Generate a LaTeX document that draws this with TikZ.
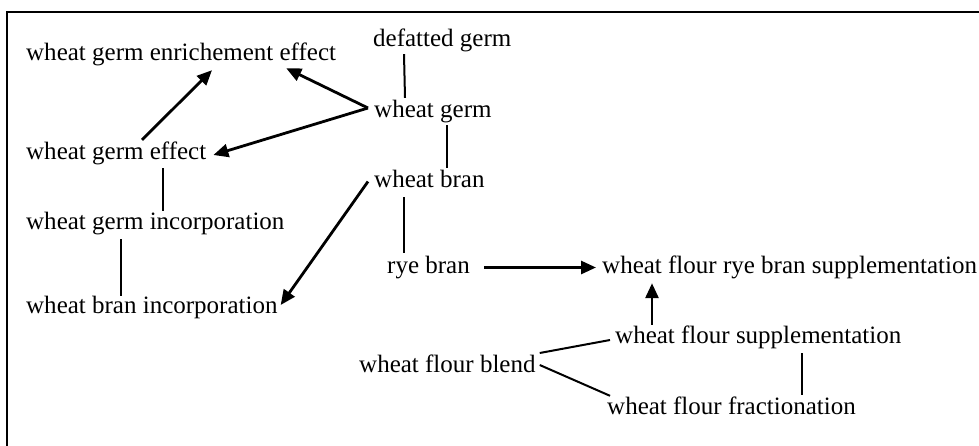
\documentclass[tikz,border=0pt]{standalone}
\usepackage{fontspec}
\setmainfont{Liberation Serif}
\usetikzlibrary{arrows.meta}
\begin{document}
\begin{tikzpicture}[x=1pt,y=-1pt,
  lbl/.style={anchor=base west,inner sep=0pt,text height=17pt,text depth=6pt,
    font=\fontsize{25pt}{30pt}\selectfont},
  plain/.style={line width=2pt},
  arr/.style={line width=2.8pt,-{Triangle[length=15pt,width=13pt]}},
  frame/.style={line width=2.6pt}]
\useasboundingbox (0,0) rectangle (979,445);
% frame
\coordinate (fb) at (7,446);
\coordinate (fc) at (7,12);
\coordinate (fr) at (980,12);
\draw[frame] (fb) -- (fc) -- (fr);
% nodes
\node[lbl] (ee)   at (26,60)   {wheat germ enrichement effect};
\node[lbl] (eff)  at (26,159)  {wheat germ effect};
\node[lbl] (inc)  at (26,229)  {wheat germ incorporation};
\node[lbl] (binc) at (26,313)  {wheat bran incorporation};
\node[lbl] (dg)   at (373,46)  {defatted germ};
\node[lbl] (wg)   at (374,117) {wheat germ};
\node[lbl] (wb)   at (374,187) {wheat bran};
\node[lbl] (rye)  at (387,273) {rye bran};
\node[lbl] (wfr)  at (602,273) {wheat flour rye bran supplementation};
\node[lbl] (wfs)  at (615,343) {wheat flour supplementation};
\node[lbl] (blend) at (359,372) {wheat flour blend};
\node[lbl] (wff)  at (607,414) {wheat flour fractionation};
% plain connectors
\draw[plain] ([xshift=31pt,yshift=-2pt]dg.south west) -- ([xshift=31pt,yshift=2pt]wg.north west);
\draw[plain] ([xshift=73pt,yshift=-2pt]wg.south west) -- ([xshift=73pt,yshift=2pt]wb.north west);
\draw[plain] ([xshift=30pt,yshift=-4pt]wb.south west) -- ([xshift=17pt,yshift=3pt]rye.north west);
\draw[plain] ([xshift=137pt,yshift=-3pt]eff.south west) -- ([xshift=137pt,yshift=1pt]inc.north west);
\draw[plain] ([xshift=95pt,yshift=-4pt]inc.south west) -- ([xshift=95pt]binc.north west);
\draw[plain] ([xshift=187pt,yshift=-4pt]wfs.south west) -- ([xshift=195pt,yshift=2pt]wff.north west);
\draw[plain] ([xshift=4pt,yshift=13.5pt]blend.east) -- ([xshift=-5pt,yshift=-2.5pt]wfs.west);
\draw[plain] ([xshift=4pt,yshift=1.5pt]blend.east) -- ([xshift=3pt,yshift=1pt]wff.north west);
% arrows
\draw[arr] ([xshift=116pt,yshift=2pt]eff.north west) -- ([xshift=186pt,yshift=-4pt]ee.south west);
\draw[arr] ([xshift=-6pt,yshift=3.5pt]wg.west) -- ([xshift=-50pt,yshift=-2pt]ee.south east);
\draw[arr] ([xshift=-6pt,yshift=3.5pt]wg.west) -- ([xshift=7pt,yshift=-1.5pt]eff.east);
\draw[arr] ([xshift=-6pt]wb.west) -- ([xshift=3pt,yshift=2.5pt]binc.east);
\draw[arr] ([xshift=14pt]rye.east) -- ([xshift=-6pt]wfr.west);
\draw[arr] ([xshift=37pt,yshift=1pt]wfs.north west) -- ([xshift=50pt,yshift=-4pt]wfr.south west);
\end{tikzpicture}
\end{document}
